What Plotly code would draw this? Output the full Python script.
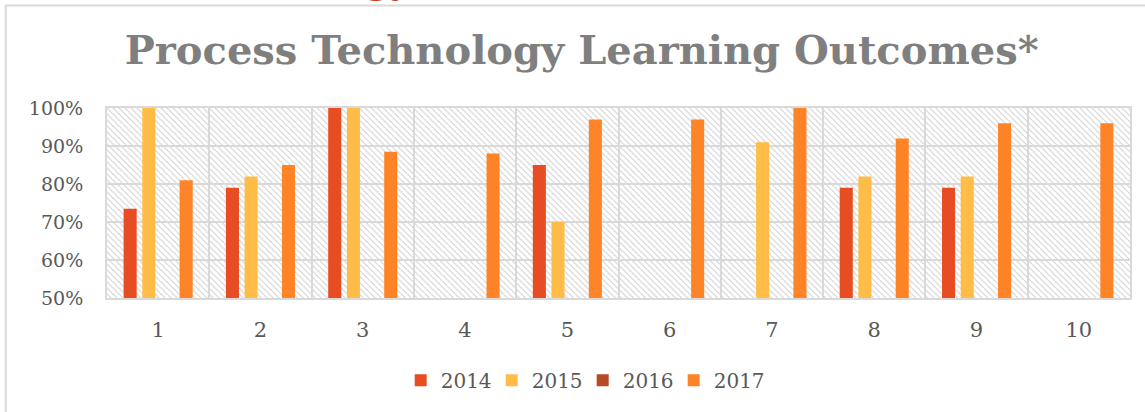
import base64
import plotly.graph_objects as go

# survey items 1..10
items = ["1", "2", "3", "4", "5", "6", "7", "8", "9", "10"]

y2014 = [0.735, 0.79, 1.00, None, 0.85, None, None, 0.79, 0.79, None]
y2015 = [1.00, 0.82, 1.00, None, 0.70, None, 0.91, 0.82, 0.82, None]
y2016 = [None, None, None, None, None, None, None, None, None, None]
y2017 = [0.81, 0.85, 0.885, 0.88, 0.97, 0.97, 1.00, 0.92, 0.96, 0.96]

years = ["2014", "2015", "2016", "2017"]
series = [y2014, y2015, y2016, y2017]
colors = ["#E84C22", "#FFBD47", "#B64926", "#FF8427"]

FONT = "DejaVu Serif"
GRID = "#d9d9d9"

# diagonal hatch used as plot background
hatch_svg = (
    '<svg xmlns="http://www.w3.org/2000/svg" width="1022" height="190">'
    '<defs><pattern id="h" width="6" height="6" patternUnits="userSpaceOnUse">'
    '<path d="M-1,-1 L7,7 M-1,5 L1,7 M5,-1 L7,1" stroke="#d6d6d6" stroke-width="1.2"/>'
    '</pattern></defs><rect width="1022" height="190" fill="url(#h)"/></svg>'
)
hatch_src = "data:image/svg+xml;base64," + base64.b64encode(hatch_svg.encode()).decode()

fig = go.Figure()

for yr, vals, col in zip(years, series, colors):
    fig.add_trace(go.Bar(
        x=items, y=vals,
        name=yr,
        marker=dict(color=col, line=dict(width=0)),
    ))

fig.update_layout(
    width=1145, height=412,
    margin=dict(l=107, r=15, t=108, b=114),
    paper_bgcolor="white",
    plot_bgcolor="rgba(0,0,0,0)",
    barmode="group",
    bargap=0.27,
    bargroupgap=0.30,
    title=dict(
        text="<b>Process Technology Learning Outcomes*</b>",
        x=0.508, xanchor="center",
        y=0.878, yanchor="middle",
        font=dict(family=FONT, size=40, color="#7f7f7f"),
    ),
    font=dict(family=FONT, size=19, color="#595959"),
    legend=dict(
        orientation="h",
        x=0.465, xanchor="center",
        y=-0.433, yanchor="middle",
        font=dict(family=FONT, size=20, color="#595959"),
        itemwidth=30,
        entrywidth=46,
    ),
    images=[dict(
        source=hatch_src, xref="paper", yref="paper",
        x=0, y=1, sizex=1, sizey=1,
        sizing="stretch", layer="below",
    )],
    shapes=[dict(
        type="rect", xref="paper", yref="paper",
        x0=-0.099, x1=1.05, y0=-0.7, y1=1.54,
        line=dict(color="#d9d9d9", width=2),
        fillcolor="rgba(0,0,0,0)", layer="below",
    )],
    annotations=[dict(
        text="<b>gy</b>", xref="paper", yref="paper",
        x=0.251, y=1.546, xanchor="left", yanchor="bottom",
        showarrow=False,
        font=dict(family=FONT, size=34, color="#C4401E"),
    )],
)

fig.update_xaxes(
    type="category",
    tickson="boundaries",
    showgrid=True, gridcolor=GRID, gridwidth=2,
    showline=True, linecolor=GRID, linewidth=2, mirror=True,
    ticks="", ticklabelstandoff=12,
    tickfont=dict(family=FONT, size=21, color="#595959"),
)
fig.update_yaxes(
    range=[0.5, 1.0],
    dtick=0.1,
    tickformat=".0%",
    showgrid=True, gridcolor=GRID, gridwidth=2,
    showline=True, linecolor=GRID, linewidth=2, mirror=True,
    zeroline=False,
    ticks="outside", ticklen=18, tickcolor="rgba(0,0,0,0)",
    tickfont=dict(family=FONT, size=19, color="#595959"),
)

fig.write_html("out.html", config={"displayModeBar": False},
               post_script="document.body.style.margin='0';")
